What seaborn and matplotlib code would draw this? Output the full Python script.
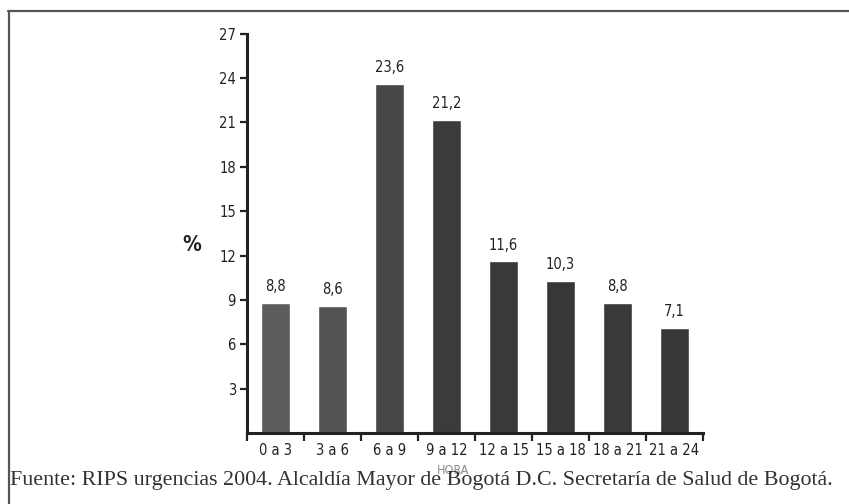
import matplotlib
matplotlib.use("Agg")
import matplotlib.pyplot as plt
from matplotlib.lines import Line2D
import seaborn as sns
import pandas as pd

# Share of emergency visits by time of day (RIPS 2004)
franjas = ["0 a 3", "3 a 6", "6 a 9", "9 a 12", "12 a 15", "15 a 18", "18 a 21", "21 a 24"]
porcentaje = [8.8, 8.6, 23.6, 21.2, 11.6, 10.3, 8.8, 7.1]
colores = ["#5c5c5c", "#545454", "#474747", "#3b3b3b", "#393939", "#373737", "#393939", "#373737"]
y_ticks = [3, 6, 9, 12, 15, 18, 21, 24, 27]
fuente = "Fuente: RIPS urgencias 2004. Alcaldía Mayor de Bogotá D.C. Secretaría de Salud de Bogotá."

sns.set_theme(style="white")
plt.rcParams["font.family"] = ["DejaVu Sans"]
plt.rcParams["font.stretch"] = "condensed"

df = pd.DataFrame({"hora": franjas, "pct": porcentaje})

fig = plt.figure(figsize=(8.49, 5.04), dpi=100)
ax = fig.add_axes([0.291, 0.141, 0.537, 0.792])

sns.barplot(data=df, x="hora", y="pct", hue="hora", palette=colores,
            legend=False, width=0.5, saturation=1, ax=ax, order=franjas)

ax.set_xlim(-0.5, len(franjas) - 0.5)
ax.set_ylim(0, 27)
ax.set_yticks(y_ticks)
ax.set_yticklabels([str(v) for v in y_ticks], fontsize=10.5, color="#222222")

# category labels centred under bars, ticks on the boundaries
ax.set_xticks(range(len(franjas)))
ax.set_xticklabels(franjas, fontsize=10.5, color="#222222")
ax.set_xticks([i - 0.5 for i in range(len(franjas) + 1)], minor=True)
ax.tick_params(axis="x", which="major", length=0, pad=7)
ax.tick_params(axis="x", which="minor", length=6, width=1.6, color="#222222", direction="out", bottom=True)
ax.tick_params(axis="y", which="major", length=5, width=1.6, color="#222222", direction="out", left=True, pad=3)

for side in ["top", "right"]:
    ax.spines[side].set_visible(False)
for side in ["left", "bottom"]:
    ax.spines[side].set_visible(True)
    ax.spines[side].set_color("#222222")
    ax.spines[side].set_linewidth(2.2)

for i, v in enumerate(porcentaje):
    ax.text(i, v + 0.6, f"{v:.1f}".replace(".", ","), ha="center", va="bottom",
            fontsize=10.5, color="#222222")

ax.set_xlabel("")
ax.set_ylabel("")
fig.text(0.226, 0.513, "%", fontsize=15, ha="center", va="center", color="#222222",
         fontweight="bold")
fig.text(0.534, 0.066, "HORA", fontsize=9, ha="center", va="center", color="#8c8c8c")

fig.text(0.012, 0.046, fuente, fontsize=15.8, ha="left", va="center", color="#333333",
         family=["Liberation Serif", "DejaVu Serif"], stretch="normal")

# page frame: top rule and left rule
fig.add_artist(Line2D([8 / 849, 1.0], [1 - 11 / 504, 1 - 11 / 504], transform=fig.transFigure,
                      color="#555555", linewidth=1.6))
fig.add_artist(Line2D([9 / 849, 9 / 849], [0, 1 - 11 / 504], transform=fig.transFigure,
                      color="#555555", linewidth=1.6))

fig.savefig("out.png", dpi=100, facecolor="white")
